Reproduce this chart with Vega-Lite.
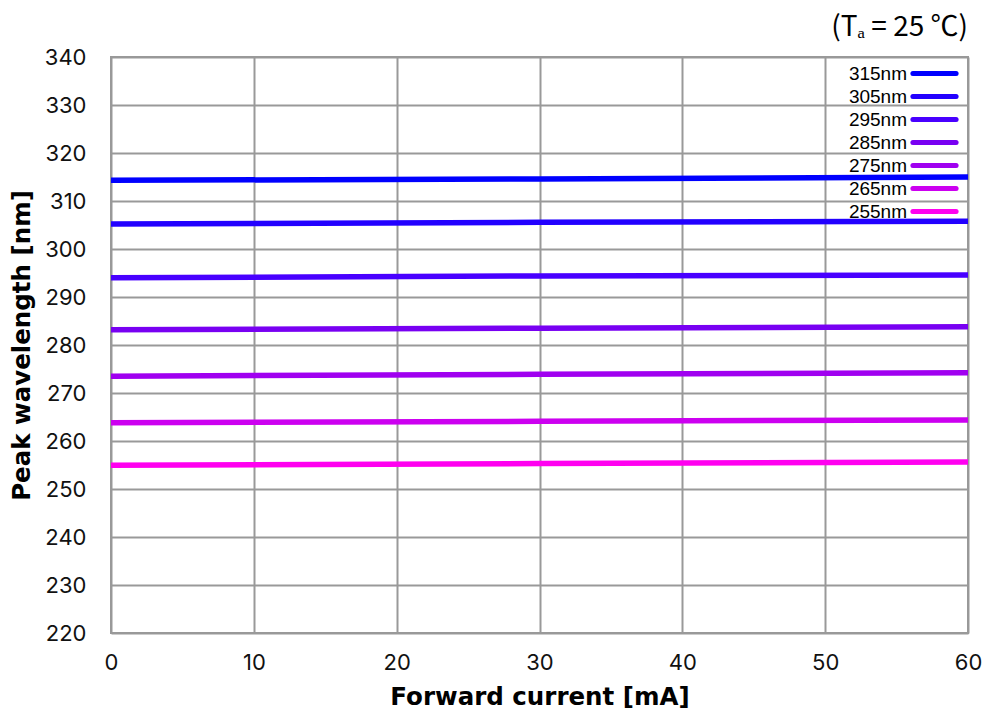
{
  "$schema": "https://vega.github.io/schema/vega-lite/v6.json",
  "width": 857,
  "height": 576,
  "autosize": {"type": "none"},
  "padding": {"left": 111, "top": 57, "right": 20, "bottom": 83},
  "background": "white",
  "title": {
    "text": "(T\u2090 = 25 \u2103)",
    "anchor": "end",
    "frame": "group",
    "font": "Noto Sans CJK KR",
    "fontSize": 28,
    "fontWeight": "normal",
    "color": "#000000",
    "offset": 4
  },
  "data": {
    "values": [
      {"series": "315nm", "current": 0, "wavelength": 314.3},
      {"series": "315nm", "current": 30, "wavelength": 314.6},
      {"series": "315nm", "current": 60, "wavelength": 315.0},
      {"series": "305nm", "current": 0, "wavelength": 305.2},
      {"series": "305nm", "current": 30, "wavelength": 305.55},
      {"series": "305nm", "current": 60, "wavelength": 305.8},
      {"series": "295nm", "current": 0, "wavelength": 294.0},
      {"series": "295nm", "current": 30, "wavelength": 294.4},
      {"series": "295nm", "current": 60, "wavelength": 294.6},
      {"series": "285nm", "current": 0, "wavelength": 283.2},
      {"series": "285nm", "current": 30, "wavelength": 283.5},
      {"series": "285nm", "current": 60, "wavelength": 283.8},
      {"series": "275nm", "current": 0, "wavelength": 273.5},
      {"series": "275nm", "current": 30, "wavelength": 273.9},
      {"series": "275nm", "current": 60, "wavelength": 274.2},
      {"series": "265nm", "current": 0, "wavelength": 263.8},
      {"series": "265nm", "current": 30, "wavelength": 264.1},
      {"series": "265nm", "current": 60, "wavelength": 264.4},
      {"series": "255nm", "current": 0, "wavelength": 254.95},
      {"series": "255nm", "current": 30, "wavelength": 255.3},
      {"series": "255nm", "current": 60, "wavelength": 255.6}
    ]
  },
  "mark": {"type": "line", "strokeWidth": 5.5},
  "encoding": {
    "x": {
      "field": "current",
      "type": "quantitative",
      "scale": {"domain": [0, 60], "nice": false, "zero": false},
      "axis": {
        "values": [0, 10, 20, 30, 40, 50, 60],
        "title": "Forward current [mA]",
        "labelPadding": 19,
        "labelFlush": false,
        "titlePadding": 12
      }
    },
    "y": {
      "field": "wavelength",
      "type": "quantitative",
      "scale": {"domain": [220, 340], "nice": false, "zero": false},
      "axis": {
        "values": [220, 230, 240, 250, 260, 270, 280, 290, 300, 310, 320, 330, 340],
        "title": "Peak wavelength [nm]",
        "labelPadding": 25,
        "labelFlush": false,
        "titlePadding": 10
      }
    },
    "color": {
      "field": "series",
      "type": "nominal",
      "scale": {
        "domain": ["315nm", "305nm", "295nm", "285nm", "275nm", "265nm", "255nm"],
        "range": ["#0000FF", "#2200FF", "#4800FF", "#7800F2", "#A000F0", "#CC00F0", "#FF00F0"]
      },
      "legend": {
        "title": null,
        "orient": "none",
        "legendX": 813,
        "legendY": 6,
        "symbolType": "M-2.7,0H2.7",
        "symbolSize": 256,
        "symbolStrokeWidth": 5,
        "rowPadding": 2,
        "padding": 0,
        "labelAlign": "right",
        "labelOffset": -38,
        "labelFont": "Liberation Sans",
        "labelFontSize": 19,
        "labelColor": "#000000",
        "labelLimit": 0,
        "encode": {
          "symbols": {"update": {"strokeCap": {"value": "round"}}}
        }
      }
    }
  },
  "config": {
    "view": {"stroke": "#999999", "strokeWidth": 2},
    "axis": {
      "grid": true,
      "gridColor": "#999999",
      "gridWidth": 2,
      "gridOpacity": 1,
      "domain": false,
      "ticks": false,
      "labelFont": "Inter",
      "labelFontSize": 22,
      "labelColor": "#111111",
      "titleFont": "DejaVu Sans",
      "titleFontSize": 24.5,
      "titleFontWeight": "bold",
      "titleColor": "#000000"
    }
  }
}
